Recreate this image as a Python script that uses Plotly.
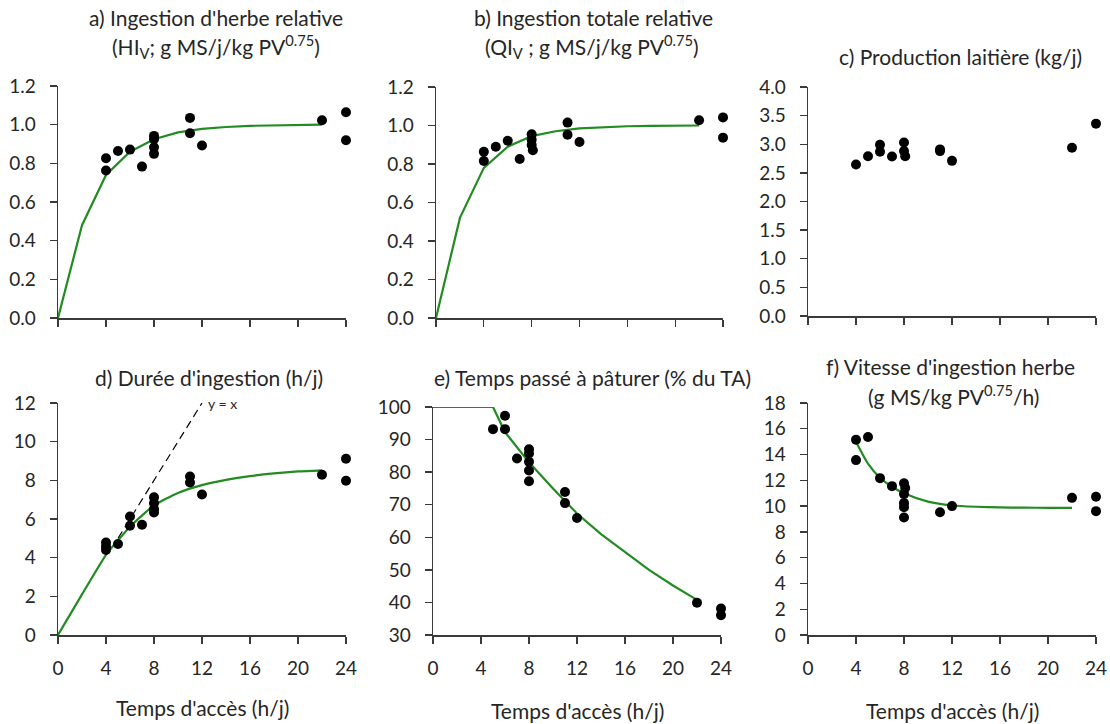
import plotly.graph_objects as go

# ---------------- data ----------------
# a) Ingestion d'herbe relative
a_x = [4, 4, 5, 6, 7, 8, 8, 8, 8, 11, 11, 12, 22, 24, 24]
a_y = [0.826, 0.763, 0.864, 0.871, 0.783, 0.942, 0.925, 0.883, 0.849, 1.035, 0.956, 0.892, 1.023, 1.064, 0.919]
a_fit_x = [0, 2, 4, 6, 8, 10, 12, 14, 16, 18, 20, 22]
a_fit_y = [0.0, 0.48, 0.74, 0.86, 0.925, 0.96, 0.978, 0.988, 0.994, 0.997, 0.999, 1.0]

# b) Ingestion totale relative
b_x = [4, 4, 5, 6, 7, 8, 8, 8, 8.1, 11, 11, 12, 22, 24, 24]
b_y = [0.864, 0.816, 0.890, 0.921, 0.826, 0.954, 0.926, 0.899, 0.871, 1.015, 0.952, 0.914, 1.027, 1.042, 0.937]
b_fit_x = [0, 2, 4, 6, 8, 10, 12, 14, 16, 18, 20, 22]
b_fit_y = [0.0, 0.52, 0.78, 0.89, 0.945, 0.97, 0.985, 0.992, 0.996, 0.998, 0.999, 1.0]

# c) Production laitière
c_x = [4, 5, 6, 6, 7, 8, 8, 8.1, 11, 11, 12, 22, 24]
c_y = [2.645, 2.79, 2.99, 2.87, 2.785, 3.03, 2.88, 2.79, 2.91, 2.88, 2.71, 2.94, 3.36]

# d) Durée d'ingestion
d_x = [4, 4, 4, 5, 6, 6, 7, 8, 8, 8, 8, 11, 11, 12, 22, 24, 24]
d_y = [4.78, 4.58, 4.40, 4.71, 6.13, 5.65, 5.70, 7.12, 6.82, 6.51, 6.34, 8.20, 7.89, 7.27, 8.29, 9.12, 7.98]
d_fit_x = [0, 2, 4, 5, 6, 8, 10, 12, 14, 16, 18, 20, 22]
d_fit_y = [0.0, 2.1, 4.15, 4.9, 5.6, 6.7, 7.35, 7.75, 8.02, 8.22, 8.36, 8.46, 8.52]
d_ref_x = [5, 12]
d_ref_y = [5, 12]

# e) Temps passé à pâturer
e_x = [4, 5, 6, 6, 7, 8, 8, 8, 8, 8, 11, 11, 12, 22, 24, 24]
e_y = [100.4, 93.2, 97.3, 93.2, 84.2, 87.0, 85.7, 83.2, 80.5, 77.2, 73.9, 70.5, 65.9, 39.9, 38.1, 36.1]
e_fit_x = [0, 5, 6, 7, 8, 10, 12, 14, 16, 18, 20, 22]
e_fit_y = [100, 100, 92.3, 87.5, 83.0, 75.0, 67.3, 61.0, 55.5, 50.0, 45.2, 40.8]

# f) Vitesse d'ingestion herbe
f_x = [4, 4, 5, 6, 7, 8, 8.1, 8, 8, 8, 8, 11, 12, 22, 24, 24]
f_y = [15.15, 13.57, 15.36, 12.17, 11.55, 11.78, 11.40, 10.93, 10.23, 9.92, 9.12, 9.53, 10.0, 10.64, 10.72, 9.61]
f_fit_x = [4, 5, 6, 7, 8, 10, 12, 14, 16, 18, 20, 22]
f_fit_y = [15.0, 13.3, 12.2, 11.5, 11.0, 10.35, 10.05, 9.95, 9.9, 9.88, 9.87, 9.87]

x_ticks = [0, 4, 8, 12, 16, 20, 24]

# ---------------- style ----------------
W, H = 1110, 724
FONT = "Lato"
TXT = "#262626"
AX = "#3a3a3a"
GREEN = "#228b22"
TICK_SIZE = 19
TITLE_SIZE = 21

fig = go.Figure()

# panel pixel boxes: (x0, x1, ytop, ybottom)
boxes = {
    1: (58, 346, 86, 318),
    2: (436, 723, 87, 318),
    3: (808, 1096, 87, 316),
    4: (58, 346, 403, 635),
    5: (433, 721, 407, 635),
    6: (808, 1096, 403, 635),
}
yranges = {1: (0, 1.2, 0.2, ".1f"), 2: (0, 1.2, 0.2, ".1f"), 3: (0, 4, 0.5, ".1f"),
           4: (0, 12, 2, "d"), 5: (30, 100, 10, "d"), 6: (0, 18, 2, "d")}

layout_axes = {}
for i, (x0, x1, yt, yb) in boxes.items():
    xs = "xaxis" if i == 1 else f"xaxis{i}"
    ys = "yaxis" if i == 1 else f"yaxis{i}"
    ya = "y" if i == 1 else f"y{i}"
    xa = "x" if i == 1 else f"x{i}"
    lo, hi, dt, fmt = yranges[i]
    layout_axes[xs] = dict(
        domain=[x0 / W, x1 / W], anchor=ya, range=[0, 24], tickvals=x_ticks,
        showticklabels=(i >= 4), ticks="outside", ticklen=7, tickwidth=1.3, tickcolor=AX,
        showline=True, linecolor=AX, linewidth=1.5, showgrid=False, zeroline=False,
        tickfont=dict(family=FONT, size=TICK_SIZE, color=TXT), ticklabelstandoff=9,
        fixedrange=True, automargin=False,
    )
    layout_axes[ys] = dict(
        domain=[(H - yb) / H, (H - yt) / H], anchor=xa, range=[lo, hi], dtick=dt, tick0=lo,
        tickformat=fmt, ticks="outside", ticklen=7, tickwidth=1.3, tickcolor=AX,
        showline=True, linecolor=AX, linewidth=1.5, showgrid=False, zeroline=False,
        tickfont=dict(family=FONT, size=TICK_SIZE, color=TXT), ticklabelstandoff=10,
        fixedrange=True, automargin=False,
    )


def add_panel(i, px, py, fx=None, fy=None, shape="linear"):
    xa = "x" if i == 1 else f"x{i}"
    ya = "y" if i == 1 else f"y{i}"
    if fx is not None:
        fig.add_trace(go.Scatter(x=fx, y=fy, mode="lines", xaxis=xa, yaxis=ya,
                                 line=dict(color=GREEN, width=2.2, shape=shape,
                                           smoothing=0.6 if shape == "spline" else None),
                                 cliponaxis=False, showlegend=False, hoverinfo="skip"))
    fig.add_trace(go.Scatter(x=px, y=py, mode="markers", xaxis=xa, yaxis=ya,
                             marker=dict(color="black", size=10, line=dict(width=0)),
                             cliponaxis=False, showlegend=False))


add_panel(1, a_x, a_y, a_fit_x, a_fit_y)
add_panel(2, b_x, b_y, b_fit_x, b_fit_y)
add_panel(3, c_x, c_y)
fig.add_trace(go.Scatter(x=d_ref_x, y=d_ref_y, mode="lines", xaxis="x4", yaxis="y4",
                         line=dict(color="black", width=1.2, dash="8px,5px"),
                         cliponaxis=False, showlegend=False, hoverinfo="skip"))
add_panel(4, d_x, d_y, d_fit_x, d_fit_y, shape="spline")
add_panel(5, e_x, e_y, e_fit_x, e_fit_y)
add_panel(6, f_x, f_y, f_fit_x, f_fit_y, shape="spline")

annotations = []


def txt(x, y, s, size=TITLE_SIZE):
    annotations.append(dict(x=x / W, y=1 - y / H, xref="paper", yref="paper", text=s,
                            showarrow=False, xanchor="center", yanchor="middle",
                            font=dict(family=FONT, size=size, color=TXT)))


txt(216, 17, "a) Ingestion d'herbe relative")
txt(216, 46, "(HI<sub>V</sub>; g MS/j/kg PV<sup>0.75</sup>)")
txt(593, 17, "b) Ingestion totale relative")
txt(592, 46, "(QI<sub>V</sub> ; g MS/j/kg PV<sup>0.75</sup>)")
txt(960, 57, "c) Production laitière (kg/j)")
txt(209, 377, "d) Durée d'ingestion (h/j)")
txt(592, 377, "e) Temps passé à pâturer (% du TA)")
txt(950, 367, "f) Vitesse d'ingestion herbe")
txt(953, 395, "(g MS/kg PV<sup>0.75</sup>/h)")
txt(202, 707, "Temps d'accès (h/j)")
txt(577, 710, "Temps d'accès (h/j)")
txt(952, 710, "Temps d'accès (h/j)")

annotations.append(dict(x=12.35, y=11.95, xref="x4", yref="y4", text="y = x", showarrow=False,
                        xanchor="left", yanchor="middle",
                        font=dict(family=FONT, size=14, color=TXT)))

fig.update_layout(
    width=W, height=H, margin=dict(l=0, r=0, t=0, b=0, autoexpand=False),
    paper_bgcolor="white", plot_bgcolor="white",
    annotations=annotations, showlegend=False,
    **layout_axes,
)

fig.write_html(
    "out.html",
    config={"displayModeBar": False, "staticPlot": True},
    post_script="document.body.style.margin='0';document.body.style.padding='0';"
                "document.documentElement.style.overflow='hidden';",
)
